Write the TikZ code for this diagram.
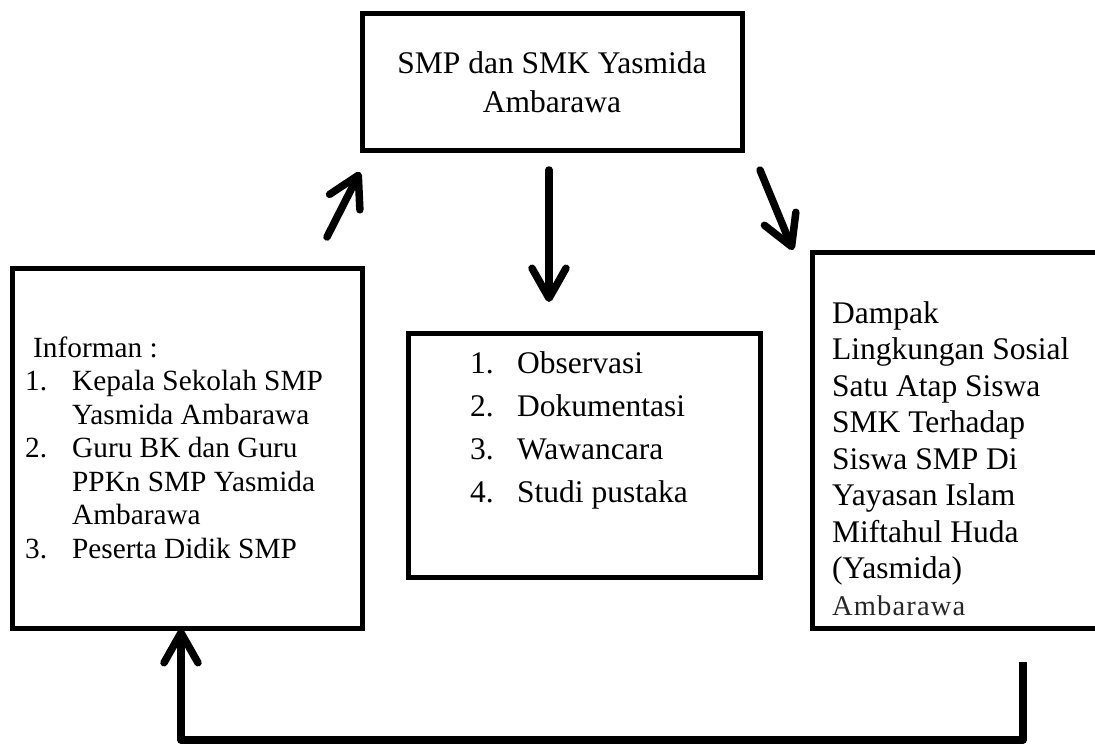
\documentclass[tikz,border=0pt]{standalone}
\usepackage{fontspec}
\setmainfont{Liberation Serif}
\usetikzlibrary{arrows.meta,calc}
\begin{document}
\begin{tikzpicture}[x=1pt,y=-1pt,
  box/.style={draw=black, line width=5pt, fill=white, inner sep=0pt, rectangle},
  txt/.style={inner sep=0pt, anchor=base west},
  arr/.style={line width=7.5pt, line cap=round, line join=round,
    -{Straight Barb[length=30pt,width=34pt,line cap=round,line join=round]}},
]
\useasboundingbox (0,0) rectangle (1095,744);
\clip (0,0) rectangle (1095,744);

% boxes
\node[box, minimum width=380pt, minimum height=137pt] (topbox) at (552,81.5) {};
\node[box, minimum width=350pt, minimum height=360pt] (leftbox) at (187,448) {};
\node[box, minimum width=352pt, minimum height=244pt] (midbox) at (584,455) {};
\node[box, minimum width=290pt, minimum height=376pt] (rightbox) at (957,440) {};

% texts
\node[txt, anchor=base, font=\fontsize{31.5}{39}\selectfont] (toptext) at (552,73)
  {\begin{tabular}[t]{@{}c@{}}SMP dan SMK Yasmida\\Ambarawa\end{tabular}};

\node[txt, font=\fontsize{29.3}{33.5}\selectfont] (lefttext) at (25,357)
  {\begin{tabular}[t]{@{}p{47pt}@{}l@{}}
  \multicolumn{2}{@{}l@{}}{\hspace{8pt}Informan :}\\
  1. & Kepala Sekolah SMP\\
     & Yasmida Ambarawa\\
  2. & Guru BK dan Guru\\
     & PPKn SMP Yasmida\\
     & Ambarawa\\
  3. & Peserta Didik SMP
  \end{tabular}};

\node[txt, font=\fontsize{31.5}{43}\selectfont] (midtext) at (470,373)
  {\begin{tabular}[t]{@{}p{47pt}@{}l@{}}
  1. & Observasi\\
  2. & Dokumentasi\\
  3. & Wawancara\\
  4. & Studi pustaka
  \end{tabular}};

\node[txt, font=\fontsize{31.5}{36.5}\selectfont] (righttext) at (832,323)
  {\begin{tabular}[t]{@{}l@{}}
  Dampak\\
  Lingkungan Sosial\\
  Satu Atap Siswa\\
  SMK Terhadap\\
  Siswa SMP Di\\
  Yayasan Islam\\
  Miftahul Huda\\
  (Yasmida)\\
  {\color{black!85}\fontsize{28.5}{36.5}\selectfont\addfontfeature{LetterSpace=4}Ambarawa}
  \end{tabular}};

% arrows
\coordinate (a1s) at (327,237);
\coordinate (a1e) at (360,172);
\coordinate (a2s) at (549,170);
\coordinate (a2e) at (549,302);
\coordinate (a3s) at (760,170);
\coordinate (a3e) at (793,250);
\coordinate (fbs) at (1023,662);
\coordinate (fbe) at (181,629);

\draw[arr] (a1s) -- (a1e);
\draw[arr] (a2s) -- (a2e);
\draw[arr] (a3s) -- (a3e);
\draw[arr, line cap=butt] (fbs) -- ++(0,78) -| (fbe);
\end{tikzpicture}
\end{document}
